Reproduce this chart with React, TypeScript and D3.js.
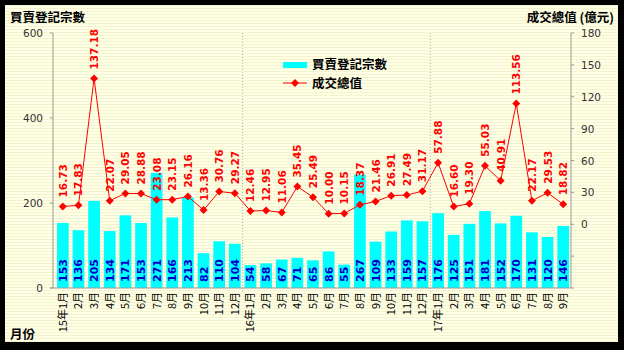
import React from "react";
import * as d3 from "d3";

const months = ["15年1月","2月","3月","4月","5月","6月","7月","8月","9月","10月","11月","12月",
  "16年1月","2月","3月","4月","5月","6月","7月","8月","9月","10月","11月","12月",
  "17年1月","2月","3月","4月","5月","6月","7月","8月","9月"];
const counts = [153,136,205,134,171,153,271,166,213,82,110,104,54,58,67,71,65,86,55,267,109,133,159,157,176,125,151,181,152,170,131,120,146];
const values = [16.73,17.83,137.18,22.07,29.05,28.88,23.08,23.15,26.16,13.36,30.76,29.27,12.46,12.95,11.06,35.45,25.49,10.00,10.15,18.37,21.46,26.91,27.49,31.17,57.88,16.60,19.30,55.03,40.91,113.56,22.17,29.53,18.82];
const leftTicks = [0, 200, 400, 600];
const rightTicks = [-60, -30, 0, 30, 60, 90, 120, 150, 180];
const yearStarts = [12, 24];

const W = 624, H = 350;
const L = 53, R = 571, T = 33, B = 288;
const CJK = "'Noto Sans CJK TC', 'DejaVu Sans', sans-serif";
const NUM = "'DejaVu Sans', sans-serif";

export default function App() {
  const x = d3.scaleBand<number>().domain(d3.range(months.length)).range([L + 2, R]).paddingInner(0.25).paddingOuter(0.125);
  const yL = d3.scaleLinear().domain([0, 600]).range([B, T]);
  const yR = d3.scaleLinear().domain([-60, 180]).range([B, T]);
  const cx = (i: number) => (x(i) as number) + x.bandwidth() / 2;
  const line = d3.line<number>().x((_, i) => cx(i)).y(d => yR(d));
  const step = x.step();
  const diamond = (px: number, py: number, s = 4) => `M${px},${py - s}L${px + s},${py}L${px},${py + s}L${px - s},${py}Z`;

  return (
    <svg width={W} height={H} style={{ display: "block", position: "absolute", left: 0, top: 0 }}>
      <defs>
        <pattern id="stripes" width="4" height="3" patternUnits="userSpaceOnUse">
          <rect width="4" height="3" fill="#FFFFE8" />
          <rect y="2" width="4" height="1" fill="#F4F4CC" />
        </pattern>
      </defs>
      <rect width={W} height={H} fill="#000" />
      <rect x={5} y={5} width={613} height={337} fill="url(#stripes)" />

      {/* titles */}
      <text x={10} y={22} fontFamily={CJK} fontSize={12.5} fontWeight="bold" fill="#000">買賣登記宗數</text>
      <text x={614} y={22} textAnchor="end" fontFamily={CJK} fontSize={12.5} fontWeight="bold" fill="#000">成交總值 (億元)</text>
      <text x={10} y={339} fontFamily={CJK} fontSize={12.5} fontWeight="bold" fill="#000">月份</text>

      {/* year separators */}
      {yearStarts.map(i => {
        const sx = (x(i) as number) - step * 0.125;
        return <line key={i} x1={sx} x2={sx} y1={T} y2={B + 4} stroke="#aaa" strokeDasharray="1,2" />;
      })}

      {/* bars */}
      {counts.map((c, i) => (
        <rect key={i} x={x(i)} y={yL(c)} width={x.bandwidth()} height={B - yL(c)} fill="#00FFFF" />
      ))}
      {counts.map((c, i) => (
        <text key={i} transform={`translate(${cx(i) + 4},${B - 6}) rotate(-90)`} fontFamily={NUM} fontSize={11} fontWeight="bold" fill="#0000CC">{c}</text>
      ))}

      {/* axes */}
      <line x1={L} x2={L} y1={T} y2={B} stroke="#999" />
      <line x1={R} x2={R} y1={T} y2={B} stroke="#999" />
      <line x1={L - 3} x2={R} y1={B} y2={B} stroke="#999" />
      {leftTicks.map(t => (
        <g key={t}>
          <line x1={L - 3} x2={L} y1={yL(t)} y2={yL(t)} stroke="#999" />
          <text x={L - 10} y={yL(t) + 4} textAnchor="end" fontFamily={NUM} fontSize={10.5} fill="#333">{t}</text>
        </g>
      ))}
      {rightTicks.map(t => (
        <g key={t}>
          <line x1={R} x2={R + 3} y1={yR(t)} y2={yR(t)} stroke="#999" />
          {t >= 0 && <text x={R + 10} y={yR(t) + 4} fontFamily={NUM} fontSize={10.5} fill="#333">{t}</text>}
        </g>
      ))}
      {months.map((m, i) => (
        <text key={i} transform={`translate(${cx(i) + 4},${B + 4}) rotate(-90)`} textAnchor="end" fontFamily={CJK} fontSize={11} fill="#000">{m}</text>
      ))}

      {/* line */}
      <path d={line(values) || ""} fill="none" stroke="#FF0000" strokeWidth={1} />
      {values.map((v, i) => (
        <path key={i} d={diamond(cx(i), yR(v))} fill="#FF0000" />
      ))}
      {values.map((v, i) => (
        <text key={i} transform={`translate(${cx(i) + 4},${yR(v) - 9}) rotate(-90)`} fontFamily={NUM} fontSize={10.5} fontWeight="bold" fill="#FF0000">{v.toFixed(2)}</text>
      ))}

      {/* legend */}
      <rect x={283} y={62} width={24} height={6} fill="#00FFFF" />
      <text x={312} y={69} fontFamily={CJK} fontSize={12.5} fontWeight="bold" fill="#000">買賣登記宗數</text>
      <line x1={283} x2={307} y1={83} y2={83} stroke="#FF0000" />
      <path d={diamond(295, 83)} fill="#FF0000" />
      <text x={312} y={88} fontFamily={CJK} fontSize={12.5} fontWeight="bold" fill="#000">成交總值</text>
    </svg>
  );
}
